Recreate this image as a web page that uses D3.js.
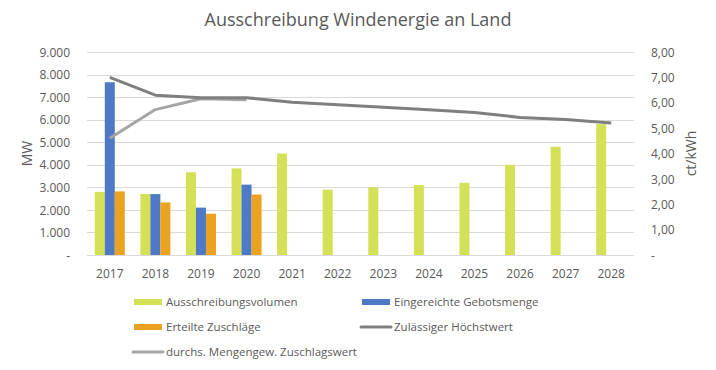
<!DOCTYPE html>
<html>
<head>
<meta charset="utf-8">
<script src="https://cdn.jsdelivr.net/npm/d3@7/dist/d3.min.js"></script>
<style>
  body { margin: 0; background: #fff; }
  text { font-family: "Open Sans", "Noto Sans", sans-serif; fill: #595959; }
</style>
</head>
<body>
<div id="chart"></div>
<script>
// data
var years = ["2017","2018","2019","2020","2021","2022","2023","2024","2025","2026","2027","2028"];
var volumen = [2800, 2700, 3670, 3840, 4500, 2900, 3000, 3100, 3200, 4000, 4800, 5800];
var gebote = [7660, 2700, 2100, 3120, null, null, null, null, null, null, null, null];
var zuschlaege = [2820, 2330, 1830, 2680, null, null, null, null, null, null, null, null];
var hoechstwert = [7.00, 6.30, 6.20, 6.20, 6.02, 5.92, 5.82, 5.72, 5.62, 5.42, 5.34, 5.20];
var zuschlagswert = [4.60, 5.73, 6.16, 6.12];
var leftTicks = [0, 1000, 2000, 3000, 4000, 5000, 6000, 7000, 8000, 9000];
var rightTicks = [0, 1, 2, 3, 4, 5, 6, 7, 8];

var width = 716, height = 370;
var margin = {left: 87, right: 82, top: 52, bottom: 115};

var svg = d3.select("#chart").append("svg")
  .attr("width", width)
  .attr("height", height);

var x = d3.scaleBand()
  .domain(years)
  .range([margin.left, width - margin.right]);

var xInner = d3.scaleBand()
  .domain(["v", "g", "z"])
  .range([0, 30]);

var yL = d3.scaleLinear().domain([0, 9000]).range([height - margin.bottom, margin.top]);
var yR = d3.scaleLinear().domain([0, 8]).range([height - margin.bottom, margin.top]);

var fmtL = function(d) { return d === 0 ? "-" : d3.format(",")(d).replace(/,/g, "."); };
var fmtR = function(d) { return d === 0 ? "-" : d3.format(".2f")(d).replace(".", ","); };

// gridlines
svg.append("g").selectAll("line")
  .data(leftTicks)
  .enter().append("line")
  .attr("x1", margin.left)
  .attr("x2", width - margin.right)
  .attr("y1", function(d) { return Math.round(yL(d)) + 0.5; })
  .attr("y2", function(d) { return Math.round(yL(d)) + 0.5; })
  .style("stroke", "#d9d9d9")
  .style("stroke-width", 1);

// left axis
var axL = svg.append("g")
  .attr("transform", "translate(" + (margin.left - 14) + ",0)")
  .call(d3.axisLeft(yL).tickValues(leftTicks).tickFormat(fmtL).tickSize(0));
axL.select(".domain").remove();
axL.selectAll("text").style("font-size", "12px").attr("dy", "0.35em");

// right axis
var axR = svg.append("g")
  .attr("transform", "translate(" + (width - margin.right + 14) + ",0)")
  .call(d3.axisRight(yR).tickValues(rightTicks).tickFormat(fmtR).tickSize(0));
axR.select(".domain").remove();
axR.selectAll("text").style("font-size", "12px").attr("dy", "0.35em");

// x axis labels
var axX = svg.append("g")
  .attr("transform", "translate(0," + (height - margin.bottom + 11) + ")")
  .call(d3.axisBottom(x).tickSize(0));
axX.select(".domain").remove();
axX.selectAll("text").style("font-size", "12px");

// bars
var series = [
  {key: "v", values: volumen, color: "#d4e157"},
  {key: "g", values: gebote, color: "#4e79c4"},
  {key: "z", values: zuschlaege, color: "#eaa220"}
];

var barOffset = (x.bandwidth() - 30) / 2;

series.forEach(function(s) {
  svg.append("g").selectAll("rect")
    .data(years.map(function(y, i) { return {year: y, value: s.values[i]}; })
      .filter(function(d) { return d.value != null; }))
    .enter().append("rect")
    .attr("x", function(d) { return x(d.year) + barOffset + xInner(s.key); })
    .attr("width", xInner.bandwidth())
    .attr("y", function(d) { return yL(d.value); })
    .attr("height", function(d) { return yL(0) - yL(d.value); })
    .style("fill", s.color);
});

// lines on right axis
var line = d3.line()
  .x(function(d, i) { return x(years[i]) + x.bandwidth() / 2; })
  .y(function(d) { return yR(d); });

svg.append("path")
  .datum(zuschlagswert)
  .attr("d", line)
  .style("fill", "none")
  .style("stroke", "#a5a5a5")
  .style("stroke-width", 3)
  .style("stroke-linejoin", "round");

svg.append("path")
  .datum(hoechstwert)
  .attr("d", line)
  .style("fill", "none")
  .style("stroke", "#7f7f7f")
  .style("stroke-width", 3)
  .style("stroke-linejoin", "round");

// title
svg.append("text")
  .attr("x", width / 2)
  .attr("y", 26)
  .attr("text-anchor", "middle")
  .style("font-size", "18px")
  .text("Ausschreibung Windenergie an Land");

// axis titles
svg.append("text")
  .attr("transform", "translate(32," + ((margin.top + height - margin.bottom) / 2) + ") rotate(-90)")
  .attr("text-anchor", "middle")
  .style("font-size", "14px")
  .text("MW");

svg.append("text")
  .attr("transform", "translate(696," + ((margin.top + height - margin.bottom) / 2) + ") rotate(-90)")
  .attr("text-anchor", "middle")
  .style("font-size", "14px")
  .text("ct/kWh");

// legend
var legendItems = [
  {name: "Ausschreibungsvolumen", color: "#d4e157", type: "bar", col: 0, row: 0},
  {name: "Eingereichte Gebotsmenge", color: "#4e79c4", type: "bar", col: 1, row: 0},
  {name: "Erteilte Zuschläge", color: "#eaa220", type: "bar", col: 0, row: 1},
  {name: "Zulässiger Höchstwert", color: "#7f7f7f", type: "line", col: 1, row: 1},
  {name: "durchs. Mengengew. Zuschlagswert", color: "#a5a5a5", type: "line", col: 0, row: 2}
];

var legend = svg.append("g");
var lg = legend.selectAll("g")
  .data(legendItems)
  .enter().append("g")
  .attr("transform", function(d) { return "translate(" + (134 + d.col * 228) + "," + (302 + d.row * 25) + ")"; });

lg.filter(function(d) { return d.type === "bar"; })
  .append("rect")
  .attr("x", 0).attr("y", -3)
  .attr("width", 28).attr("height", 6)
  .style("fill", function(d) { return d.color; });

lg.filter(function(d) { return d.type === "line"; })
  .append("line")
  .attr("x1", -1).attr("x2", 29)
  .attr("y1", 0).attr("y2", 0)
  .style("stroke", function(d) { return d.color; })
  .style("stroke-width", 3)
  .style("stroke-linecap", "round");

lg.append("text")
  .attr("x", 32)
  .attr("dy", "0.35em")
  .style("font-size", "11.5px")
  .text(function(d) { return d.name; });
</script>
</body>
</html>
